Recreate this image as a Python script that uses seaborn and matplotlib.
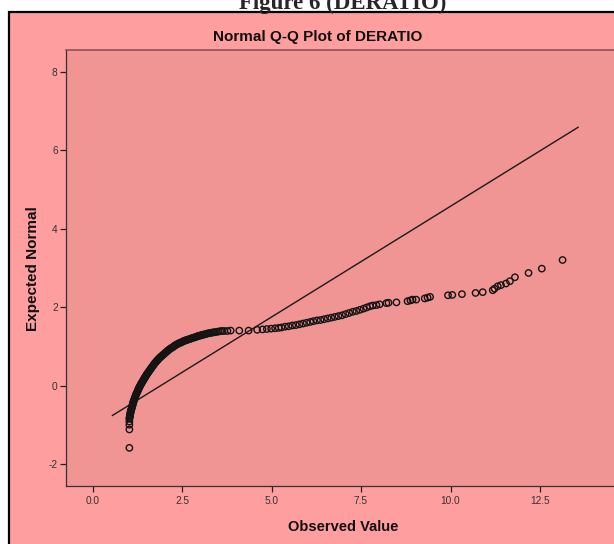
import numpy as np
import pandas as pd
import matplotlib
matplotlib.use("Agg")
import matplotlib.pyplot as plt
from matplotlib.patches import Rectangle
import seaborn as sns

# --- Data (observed DERATIO vs expected normal) ---
# isolated low points at the minimum value
LOW_OBS = [1.03, 1.03, 1.03, 1.03]
LOW_EXP = [-1.59, -1.12, -1.00, -0.92]

# the dense, solid-looking band of points
BAND_OBS = [
    1.030, 1.035, 1.040, 1.045, 1.050, 1.055, 1.060, 1.065, 1.070, 1.080,
    1.090, 1.095, 1.100, 1.110, 1.120, 1.125, 1.130, 1.140, 1.150, 1.160,
    1.170, 1.180, 1.190, 1.200, 1.210, 1.220, 1.230, 1.245, 1.260, 1.270,
    1.280, 1.290, 1.305, 1.320, 1.335, 1.350,
    1.365, 1.380, 1.395, 1.410, 1.425, 1.440, 1.455, 1.470, 1.485, 1.500,
    1.515, 1.530, 1.545, 1.560, 1.580, 1.600, 1.615, 1.630, 1.650, 1.670,
    1.690, 1.710, 1.730, 1.750,
    1.770, 1.790, 1.810, 1.830, 1.855, 1.880, 1.905, 1.930, 1.955, 1.980,
    2.005, 2.030, 2.055, 2.080, 2.105, 2.130, 2.160, 2.190, 2.220, 2.250,
    2.275, 2.300, 2.330, 2.360,
    2.390, 2.420, 2.450, 2.480, 2.510, 2.540, 2.570, 2.600, 2.630, 2.660,
    2.695, 2.730, 2.760, 2.790, 2.825, 2.860, 2.890, 2.920, 2.950, 2.980,
    3.010, 3.040, 3.070, 3.100,
    3.140, 3.180, 3.220, 3.260, 3.300, 3.340, 3.380, 3.420, 3.470, 3.520,
    3.570, 3.620,
]
BAND_EXP = [
    -0.850, -0.825, -0.800, -0.775, -0.750, -0.725, -0.700, -0.675, -0.650, -0.625,
    -0.600, -0.575, -0.550, -0.525, -0.500, -0.475, -0.450, -0.425, -0.400, -0.375,
    -0.350, -0.325, -0.300, -0.275, -0.250, -0.225, -0.200, -0.175, -0.150, -0.125,
    -0.100, -0.075, -0.050, -0.025, 0.000, 0.030,
    0.052, 0.075, 0.098, 0.120, 0.145, 0.170, 0.190, 0.210, 0.235, 0.260,
    0.280, 0.300, 0.320, 0.340, 0.365, 0.390, 0.410, 0.430, 0.455, 0.480,
    0.505, 0.530, 0.555, 0.580,
    0.600, 0.620, 0.640, 0.660, 0.685, 0.710, 0.730, 0.750, 0.770, 0.790,
    0.810, 0.830, 0.850, 0.870, 0.890, 0.910, 0.930, 0.950, 0.965, 0.980,
    1.000, 1.020, 1.035, 1.050,
    1.065, 1.080, 1.090, 1.100, 1.115, 1.130, 1.140, 1.150, 1.160, 1.170,
    1.180, 1.190, 1.200, 1.210, 1.220, 1.230, 1.240, 1.250, 1.260, 1.270,
    1.275, 1.280, 1.290, 1.300,
    1.305, 1.315, 1.330, 1.335, 1.340, 1.350, 1.355, 1.360, 1.370, 1.375,
    1.385, 1.390,
]

# the upper tail, where single circles can be told apart
TAIL_OBS = [
    3.68, 3.77, 3.86, 4.10, 4.36, 4.60, 4.75, 4.87, 4.99, 5.10,
    5.20, 5.28, 5.38, 5.48, 5.58, 5.68, 5.78, 5.88, 5.98, 6.08, 6.17, 6.27,
    6.37, 6.47, 6.57, 6.67, 6.77,
    6.87, 6.97, 7.07, 7.17, 7.27, 7.37, 7.47, 7.57, 7.66, 7.75, 7.83, 7.93,
    8.02, 8.21, 8.27, 8.49, 8.80, 8.88, 8.94, 9.04, 9.28, 9.36, 9.43,
    9.93, 10.05, 10.32, 10.70, 10.90, 11.18, 11.23, 11.32, 11.41, 11.55,
    11.66, 11.80, 12.18, 12.55, 13.13,
]
TAIL_EXP = [
    1.39, 1.39, 1.40, 1.40, 1.40, 1.42, 1.43, 1.44, 1.45, 1.46,
    1.47, 1.48, 1.50, 1.51, 1.53, 1.54, 1.56, 1.58, 1.60, 1.62, 1.64, 1.66,
    1.67, 1.69, 1.71, 1.73, 1.75,
    1.77, 1.79, 1.82, 1.85, 1.88, 1.90, 1.93, 1.96, 1.99, 2.02, 2.04, 2.05,
    2.07, 2.10, 2.11, 2.12, 2.15, 2.17, 2.19, 2.19, 2.22, 2.24, 2.26,
    2.30, 2.31, 2.33, 2.36, 2.38, 2.43, 2.47, 2.53, 2.56, 2.60,
    2.66, 2.76, 2.87, 2.98, 3.20,
]

# reference line of the normal fit (mean / sd of DERATIO)
LINE_MEAN = 1.91
LINE_SD = 1.77
LINE_X = [0.55, 13.57]

X_TICKS = [0.0, 2.5, 5.0, 7.5, 10.0, 12.5]
Y_TICKS = [-2, 0, 2, 4, 6, 8]

df = pd.DataFrame({
    "Observed Value": LOW_OBS + BAND_OBS + TAIL_OBS,
    "Expected Normal": LOW_EXP + BAND_EXP + TAIL_EXP,
})
line_df = pd.DataFrame({"x": LINE_X})
line_df["y"] = (line_df["x"] - LINE_MEAN) / LINE_SD

# --- Figure ---
sns.set_style("white")
plt.rcParams["font.family"] = ["Liberation Sans", "DejaVu Sans"]

W, H = 614, 544
fig = plt.figure(figsize=(W / 100, H / 100), dpi=100, facecolor="white")

# outer salmon frame (right / bottom edges fall off the picture)
frame = Rectangle((9 / W, -0.1), 1.2, 1.1 - 12 / H, transform=fig.transFigure,
                  facecolor="#FF9E9E", edgecolor="black", linewidth=1.6, zorder=-10)
fig.patches.append(frame)

# page caption, cut off at the top
fig.text(343 / W, 1 - 8.5 / H, "Figure 6 (DERATIO)", ha="center", va="baseline",
         fontsize=16.5, fontweight="bold", family=["Liberation Serif", "DejaVu Serif"])

# axes: 0.0 at x=92.5px, 35.8 px per unit; y 0 at 386px, 39.07 px per unit
x0_px, xu = 92.5, 35.8
left_px, top_px, bottom_px = 65.7, 50, 485.7
xmin = (left_px - x0_px) / xu
xmax = 15.2
ax_w = (xmax - xmin) * xu
ax = fig.add_axes([left_px / W, (H - bottom_px) / H, ax_w / W, (bottom_px - top_px) / H])
ax.set_zorder(1)
ax.set_facecolor("#F09494")
ax.set_xlim(xmin, xmax)
ax.set_ylim(-2.555, 8.555)

sns.lineplot(data=line_df, x="x", y="y", ax=ax, color="#1a1a1a", linewidth=1.0)
sns.scatterplot(data=df, x="Observed Value", y="Expected Normal", ax=ax,
                marker="o", s=21, facecolors="none", edgecolor="#141414",
                linewidth=1.0, zorder=3)

ax.set_xticks(X_TICKS)
ax.set_xticklabels([f"{v:.1f}" for v in X_TICKS])
ax.set_yticks(Y_TICKS)
ax.set_yticklabels([str(v) for v in Y_TICKS])
ax.tick_params(axis="both", direction="out", length=4.3, width=0.9, color="#222222",
               labelsize=7.3, labelcolor="#333333", bottom=True, left=True)
ax.tick_params(axis="y", pad=1.5)
ax.tick_params(axis="x", pad=3)
for side in ["left", "bottom"]:
    ax.spines[side].set_color("#333333")
    ax.spines[side].set_linewidth(0.9)
ax.spines["top"].set_color("#8a5555")
ax.spines["top"].set_linewidth(1.2)
ax.spines["right"].set_visible(False)

ax.set_xlabel("")
ax.set_ylabel("")
fig.text(343 / W, 1 - 527 / H, "Observed Value", ha="center", va="center",
         fontsize=10.5, fontweight="bold", color="#111111")
fig.text(32.5 / W, 1 - 268.5 / H, "Expected Normal", ha="center", va="center",
         rotation=90, fontsize=11, fontweight="bold", color="#111111")
fig.text(317.5 / W, 1 - 40.7 / H, "Normal Q-Q Plot of DERATIO", ha="center", va="baseline",
         fontsize=11, fontweight="bold", color="#111111")

fig.savefig("out.png", dpi=100, facecolor=fig.get_facecolor())
